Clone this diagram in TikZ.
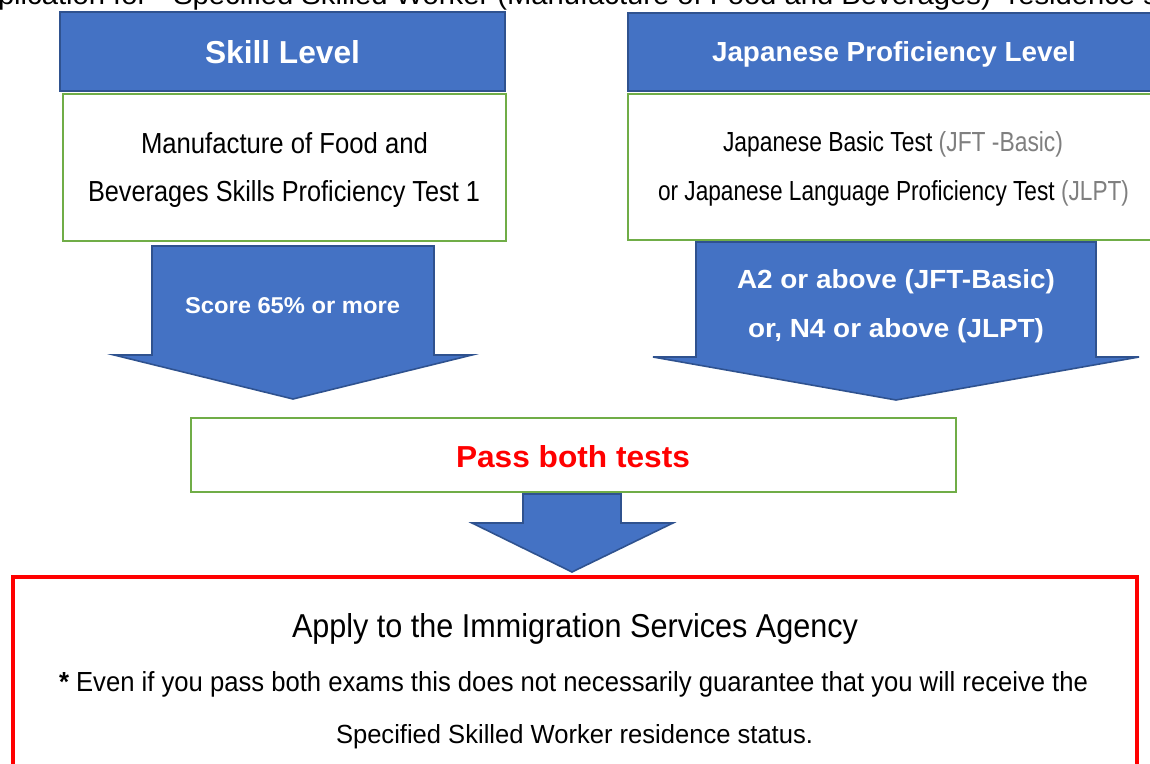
\documentclass[tikz,border=0pt]{standalone}
\usepackage{fontspec}
\setmainfont{Liberation Sans}
\usepackage{graphicx}
\newlength\pxu
\setlength\pxu{0.02cm}
\newcommand{\fitt}[3]{\resizebox{#1\pxu}{#2\pxu}{#3}}
\definecolor{ablue}{HTML}{4472C4}
\definecolor{dblue}{HTML}{2F528F}
\definecolor{agreen}{HTML}{70AD47}
\definecolor{ared}{HTML}{FF0000}
\definecolor{tgray}{HTML}{7F7F7F}
\tikzset{
  bluebox/.style={fill=ablue, draw=dblue, line width=0.9pt},
  greenbox/.style={fill=white, draw=agreen, line width=1.1pt},
  redbox/.style={fill=white, draw=ared, line width=2.4pt},
  blockarrow/.style={fill=ablue, draw=dblue, line width=0.9pt, line join=miter},
  txt/.style={anchor=base west, inner sep=0pt, outer sep=0pt},
  wtxt/.style={txt, text=white, font=\bfseries},
}
\begin{document}
\begin{tikzpicture}[x=0.02cm, y=-0.02cm]
\useasboundingbox (0,0) rectangle (1150,764);
\clip (0,0) rectangle (1150,764);
\fill[white] (0,0) rectangle (1150,764);

% cropped title line at the top
\node[txt] (title) at (-2,5) {\fitt{1160}{20}{plication for \ ``Specified Skilled Worker (Manufacture of Food and Beverages)'' residence s}};

% header boxes
\draw[bluebox] (60,12) rectangle (505,91) coordinate (skillSE);
\node[wtxt] (skill) at (205,63) {\fitt{155}{23}{Skill Level}};
\draw[bluebox] (628,13) rectangle (1165,91);
\node[wtxt] (jpl) at (712,62) {\fitt{364}{20}{Japanese Proficiency Level}};

% green description boxes
\draw[greenbox] (63,94) rectangle (506,241);
\node[txt] (m1) at (141,153) {\fitt{287}{21}{Manufacture of Food and}};
\node[txt] (m2) at (88,201) {\fitt{392}{21}{Beverages Skills Proficiency Test 1}};
\draw[greenbox] (628,94) rectangle (1165,240);
\node[txt] (j1) at (723,152) {\fitt{340}{20}{Japanese Basic Test \textcolor{tgray}{(JFT -Basic)}}};
\node[txt] (j2) at (658,200) {\fitt{471}{20}{or Japanese Language Proficiency Test \textcolor{tgray}{(JLPT)}}};

% block arrows
\draw[blockarrow] (152,246) -- (434,246) -- (434,355) -- (472,355) -- (293,399) -- (114,355) -- (152,355) -- cycle;
\node[wtxt] (score) at (185,313) {\fitt{215}{16}{Score 65\% or more}};
\draw[blockarrow] (696,242) -- (1096,242) -- (1096,357) -- (1139,357) -- (896,400) -- (653,357) -- (696,357) -- cycle;
\node[wtxt] (a2) at (737,288) {\fitt{318}{19}{A2 or above (JFT-Basic)}};
\node[wtxt] (n4) at (748,337) {\fitt{296}{19}{or, N4 or above (JLPT)}};

% pass box
\draw[greenbox] (191,418) rectangle (956,492);
\node[txt, text=ared, font=\bfseries] (pass) at (456,467) {\fitt{234}{22}{Pass both tests}};

% small arrow
\draw[blockarrow] (523,494) -- (621,494) -- (621,523) -- (673,523) -- (572,572) -- (472,523) -- (523,523) -- cycle;

% red box
\draw[redbox] (13,577) rectangle (1137,800);
\node[txt] (apply) at (292,637) {\fitt{566}{24}{Apply to the Immigration Services Agency}};
\node[txt] (note1) at (59,691) {\fitt{1029}{20}{\textbf{*} Even if you pass both exams this does not necessarily guarantee that you will receive the}};
\node[txt] (note2) at (336,743) {\fitt{477}{19}{Specified Skilled Worker residence status.}};
\end{tikzpicture}
\end{document}
